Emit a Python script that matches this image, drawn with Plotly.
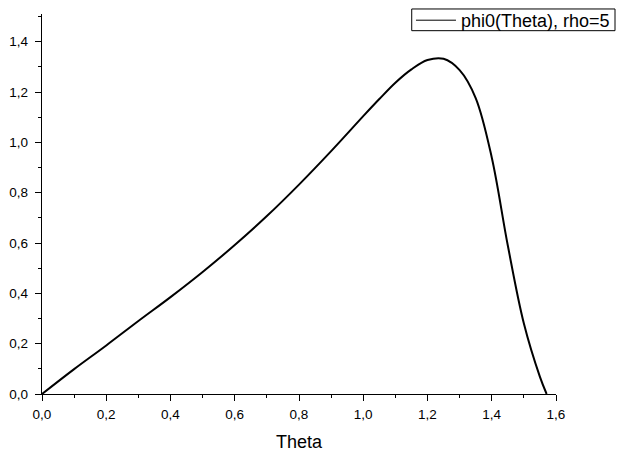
import plotly.graph_objects as go

theta = [0.0, 0.1, 0.2, 0.3, 0.4, 0.5, 0.6, 0.7, 0.8, 0.9, 1.0, 1.05, 1.1, 1.15,
         1.2, 1.25, 1.3, 1.35, 1.4, 1.45, 1.5, 1.55, 1.5708]
phi0 = [0.0, 0.099, 0.193, 0.29, 0.385, 0.485, 0.592, 0.707, 0.832, 0.965, 1.104,
        1.172, 1.237, 1.29, 1.327, 1.332, 1.287, 1.176, 0.94, 0.59, 0.28, 0.068, 0.0]

series_name = "phi0(Theta), rho=5"
x_title = "Theta"
font_family = "Liberation Sans, Arial, sans-serif"

fig = go.Figure()
fig.add_trace(go.Scatter(x=theta, y=phi0, mode="lines",
                         line=dict(color="black", width=2, shape="spline", smoothing=1.0),
                         showlegend=False, hoverinfo="skip"))
fig.add_trace(go.Scatter(x=[None], y=[None], mode="lines", name=series_name,
                         line=dict(color="black", width=1), showlegend=True))

axis_common = dict(showgrid=False, zeroline=False, showline=True, linecolor="black",
                   linewidth=1.3, ticks="outside", ticklen=6, tickwidth=1.3,
                   tickcolor="black", tickformat=".1f",
                   tickfont=dict(family=font_family, size=13.5, color="black"),
                   minor=dict(ticks="outside", ticklen=3, tickwidth=1.3, tickcolor="black", dtick=0.1))

fig.update_xaxes(range=[0, 1.6], dtick=0.2, tick0=0, ticklabelstandoff=2,
                 title=dict(text=x_title, font=dict(family=font_family, size=18, color="black"), standoff=15),
                 **axis_common)
fig.update_yaxes(range=[0, 1.51], dtick=0.2, tick0=0, ticklabelstandoff=4, **axis_common)

# legend frame (drawn as a paper-referenced rectangle so it can be tighter than Plotly's default)
fig.add_shape(type="rect", xref="paper", yref="paper",
              x0=0.7193, x1=1.1148, y0=0.9561, y1=1.0132,
              line=dict(color="black", width=1), fillcolor="rgba(0,0,0,0)", layer="above")

fig.update_layout(
    width=619, height=452,
    margin=dict(l=42, r=63, t=14, b=58, autoexpand=False),
    plot_bgcolor="white", paper_bgcolor="white",
    separators=",.",
    font=dict(family=font_family, color="black"),
    legend=dict(xref="container", yref="container", x=0.9935, y=0.9956,
                xanchor="right", yanchor="top",
                borderwidth=0, bgcolor="rgba(0,0,0,0)",
                font=dict(family=font_family, size=18, color="black"),
                itemwidth=40, tracegroupgap=0),
)

fig.write_html("out.html", config={"displayModeBar": False},
               post_script="document.body.style.margin='0';document.body.style.overflow='hidden';")
